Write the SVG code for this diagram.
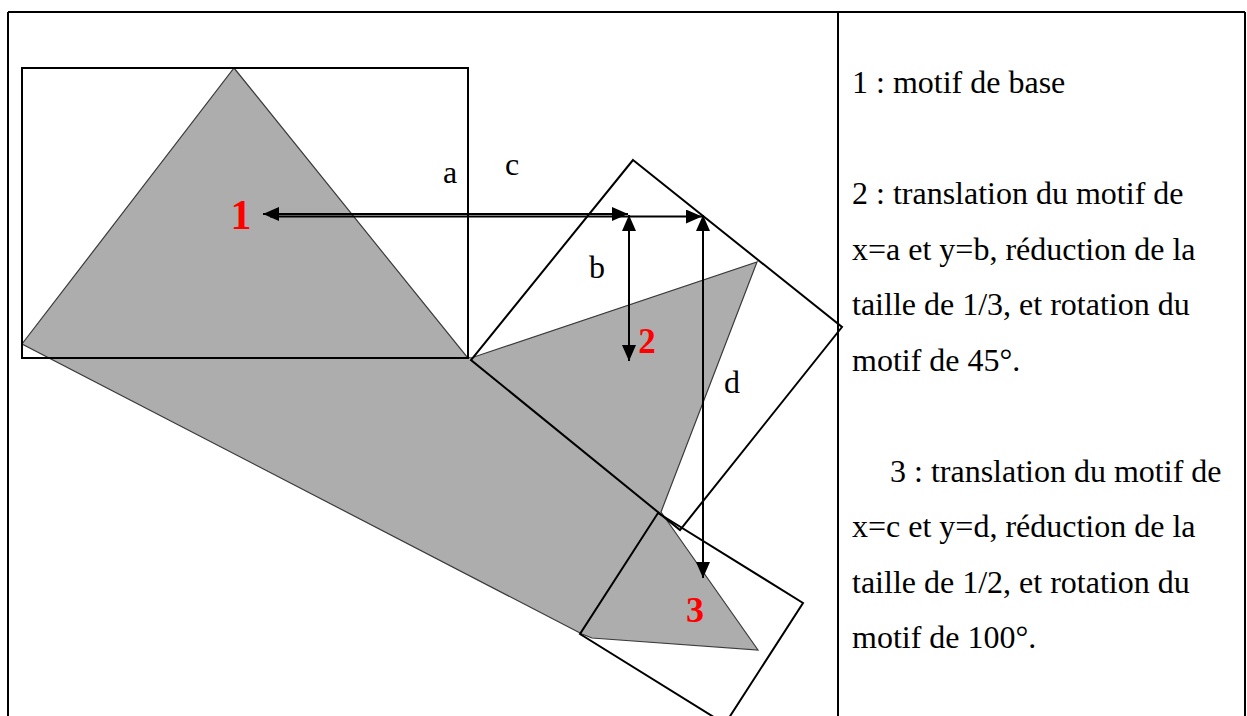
<svg xmlns="http://www.w3.org/2000/svg" width="1247" height="716" viewBox="0 0 1247 716">
<style>
  .frame { fill: none; stroke: #000; stroke-width: 2; }
  .tbl { fill: none; stroke: #000; stroke-width: 2; }
  .shape { fill: #adadad; stroke: #3a3a3a; stroke-width: 1.2; stroke-linejoin: miter; }
  .arrow { stroke: #000; stroke-width: 2; fill: none; }
  .lbl { font-family: "Liberation Serif", "Times New Roman", serif; font-size: 32px; fill: #000; }
  .num { font-family: "Liberation Serif", "Times New Roman", serif; font-weight: bold; fill: #ff0000; text-anchor: middle; }
  .txt { font-family: "Liberation Serif", "Times New Roman", serif; font-size: 32px; fill: #000; }
</style>
<defs>
  <marker id="head" viewBox="0 0 16 14" refX="16" refY="7" markerWidth="16" markerHeight="14" markerUnits="userSpaceOnUse" orient="auto-start-reverse">
    <path d="M0,0 L16,7 L0,14 z" fill="#000"/>
  </marker>
</defs>
<rect width="1247" height="716" fill="#fff"/>
<g id="table">
  <line class="tbl" x1="8" y1="12" x2="1245" y2="12"/>
  <line class="tbl" x1="8" y1="12" x2="8" y2="716"/>
  <line class="tbl" x1="838" y1="12" x2="838" y2="716"/>
  <line class="tbl" x1="1245" y1="12" x2="1245" y2="716"/>
</g>
<g id="motifs-fill">
  <polygon class="shape" points="234,68 467,357 471,358 757,262 661,512 758,650 592,638 582,634 22,344"/>
</g>
<g id="motif1">
  <rect class="frame" x="22" y="68" width="446" height="290"/>
  <text class="num" x="241" y="229" font-size="42">1</text>
</g>
<g id="motif2">
  <polygon class="frame" points="633,160 842,327 680,530 471,360"/>
  <text class="num" x="647" y="353" font-size="35">2</text>
</g>
<g id="motif3">
  <polygon class="frame" points="658,513 803,603 725,724 580,634"/>
  <text class="num" x="695" y="622" font-size="36">3</text>
</g>
<g id="connectors">
  <line class="arrow" x1="263" y1="214" x2="628" y2="214" marker-start="url(#head)" marker-end="url(#head)"/>
  <line class="arrow" x1="270" y1="216.5" x2="702" y2="216.5" marker-end="url(#head)"/>
  <line class="arrow" x1="629" y1="215" x2="629" y2="361" marker-start="url(#head)" marker-end="url(#head)"/>
  <line class="arrow" x1="703" y1="215" x2="703" y2="578" marker-start="url(#head)" marker-end="url(#head)"/>
</g>
<g id="labels">
  <text class="lbl" x="443" y="183">a</text>
  <text class="lbl" x="505" y="175">c</text>
  <text class="lbl" x="589" y="278">b</text>
  <text class="lbl" x="724" y="393">d</text>
</g>
<g id="legend">
  <text class="txt" x="852" y="93">1 : motif de base</text>
  <text class="txt" x="852" y="204">2 : translation du motif de</text>
  <text class="txt" x="852" y="259.5">x=a et y=b, réduction de la</text>
  <text class="txt" x="852" y="315">taille de 1/3, et rotation du</text>
  <text class="txt" x="852" y="370.5">motif de 45°.</text>
  <text class="txt" x="890" y="481.5">3 : translation du motif de</text>
  <text class="txt" x="852" y="537">x=c et y=d, réduction de la</text>
  <text class="txt" x="852" y="592.5">taille de 1/2, et rotation du</text>
  <text class="txt" x="852" y="648">motif de 100°.</text>
</g>
</svg>
